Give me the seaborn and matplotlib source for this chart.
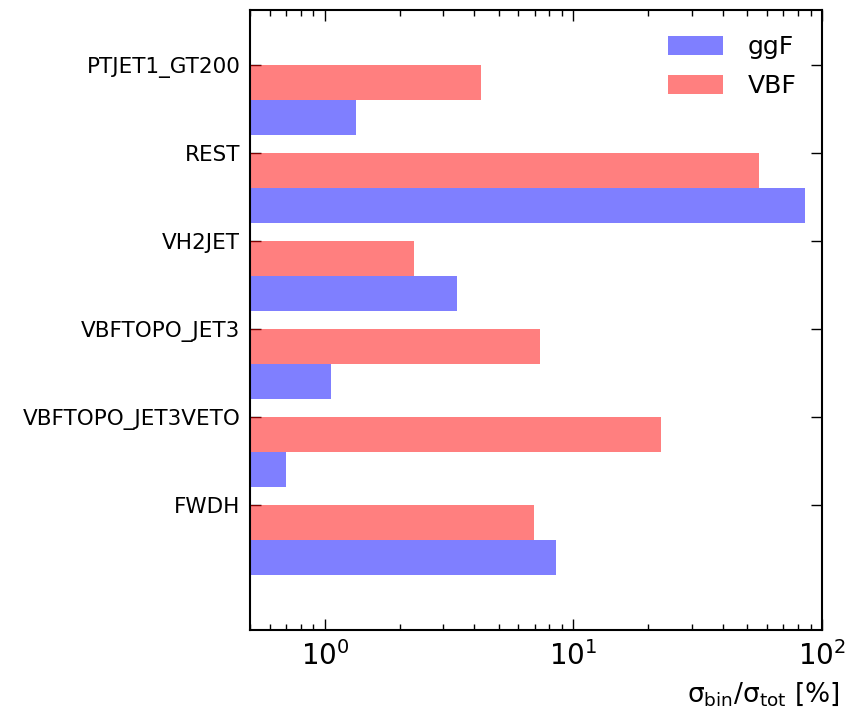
import seaborn as sns
import pandas as pd
import numpy as np
from matplotlib import pyplot as plt

categories = ['PTJET1_GT200', 'REST', 'VH2JET', 'VBFTOPO_JET3', 'VBFTOPO_JET3VETO', 'FWDH']
vbf = [4.23, 55.8, 2.28, 7.37, 22.6, 6.97]
ggf = [1.33, 85.5, 3.39, 1.06, 0.70, 8.55]

sns.set_style("ticks", {'axes.edgecolor': 'black', 'text.color': 'black',
                        'axes.labelcolor': 'black', 'xtick.color': 'black',
                        'ytick.color': 'black'})
plt.rcParams['font.family'] = ['DejaVu Sans']

df = pd.DataFrame({
    'cat': categories * 2,
    'frac': vbf + ggf,
    'proc': ['VBF'] * len(categories) + ['ggF'] * len(categories),
})

fig = plt.figure(figsize=(8.58, 7.17), dpi=100)
ax = fig.add_axes([0.2914, 0.1213, 0.958 - 0.2914, 0.986 - 0.1213])
ax.set_xscale('log')

sns.barplot(data=df, x='frac', y='cat', hue='proc', hue_order=['VBF', 'ggF'],
            order=categories, orient='h', palette={'VBF': 'red', 'ggF': 'blue'},
            saturation=1, alpha=0.5, width=0.8, linewidth=0, ax=ax)

ax.set_xlim(0.5, 100)
ax.set_ylim(6.02, -1.025)
ax.set_yticks(np.arange(len(categories)) - 0.4)
ax.set_yticklabels(categories, fontsize=15.5)
ax.set_ylabel('')
ax.set_xlabel('σ$_{\\rm bin}$/σ$_{\\rm tot}$ [%]', fontsize=19)
ax.xaxis.set_label_coords(1.03, -0.08)
ax.xaxis.label.set_horizontalalignment('right')

ax.tick_params(axis='both', which='both', direction='in', top=True, right=True)
ax.tick_params(axis='both', which='major', length=8, width=1)
ax.tick_params(axis='both', which='minor', length=4, width=1)
ax.tick_params(axis='x', which='major', labelsize=20, pad=8)
ax.tick_params(axis='y', which='major', pad=7)
for s in ax.spines.values():
    s.set_linewidth(1.5)

handles, labels = ax.get_legend_handles_labels()
order = [labels.index('ggF'), labels.index('VBF')]
ax.legend([handles[i] for i in order], [labels[i] for i in order],
          loc='upper right', frameon=False, fontsize=18, handlelength=2.2,
          handleheight=0.8, borderaxespad=0.6, labelspacing=0.6, handletextpad=1.0)

fig.savefig('out.png', dpi=100)
